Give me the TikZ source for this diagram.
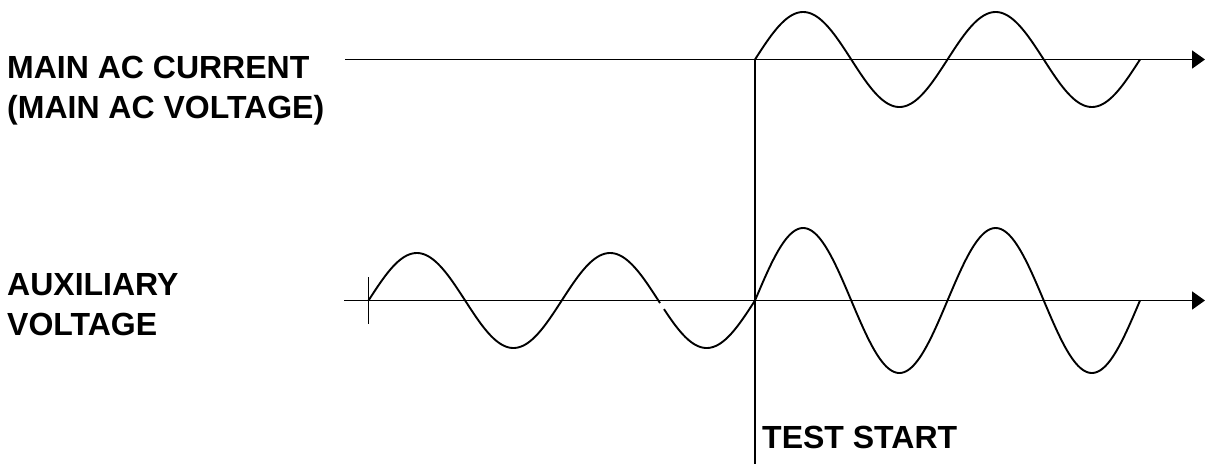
\documentclass[tikz,border=0pt]{standalone}
\usepackage{fontspec}
\setmainfont{Liberation Sans}
\usetikzlibrary{arrows.meta}
\tikzset{
  lbl/.style={anchor=base west, inner sep=0pt, font=\fontsize{32}{40}\selectfont\bfseries},
  axisline/.style={line width=1.9pt, -{Triangle[length=13pt,width=18pt]}},
  wave/.style={line width=1.9pt, line join=round},
  plain/.style={line width=1.9pt}
}
\begin{document}
\begin{tikzpicture}[x=1pt,y=-1pt]
\useasboundingbox (0,0) rectangle (1205,464);
% labels
\node[lbl] (l1) at (7,78) {MAIN AC CURRENT};
\node[lbl] (l2) at (7,118) {(MAIN AC VOLTAGE)};
\node[lbl] (l3) at (7,295) {AUXILIARY};
\node[lbl] (l4) at (7,335) {VOLTAGE};
\node[lbl] (l5) at (762,448) {TEST START};
% coordinates
\coordinate (a1s) at (345,59.5);
\coordinate (a1e) at (1205,59.5);
\coordinate (a2s) at (344,300.5);
\coordinate (a2e) at (1205,300.5);
\coordinate (vt) at (755,59.5);
\coordinate (vb) at (755,464);
\coordinate (tkt) at (368.5,277);
\coordinate (tkb) at (368.5,324);
% axes
\draw[axisline] (a1s) -- (a1e);
\draw[axisline] (a2s) -- (a2e);
\draw[plain] (vt) -- (vb);
\draw[plain] (tkt) -- (tkb);
% top wave
\draw[wave] plot[domain=0:385, samples=200] ({755+\x},{59.5-47.5*sin(\x/192.5*360)});
% bottom left wave (with small break)
\draw[wave] plot[domain=0:291.5, samples=160] ({368.5+\x},{300.5-47.5*sin(\x/193.25*360)});
\draw[wave] plot[domain=295.5:386.5, samples=60] ({368.5+\x},{300.5-47.5*sin(\x/193.25*360)});
% bottom right wave
\draw[wave] plot[domain=0:385, samples=200] ({755+\x},{300.5-72.5*sin(\x/192.5*360)});
\end{tikzpicture}
\end{document}
